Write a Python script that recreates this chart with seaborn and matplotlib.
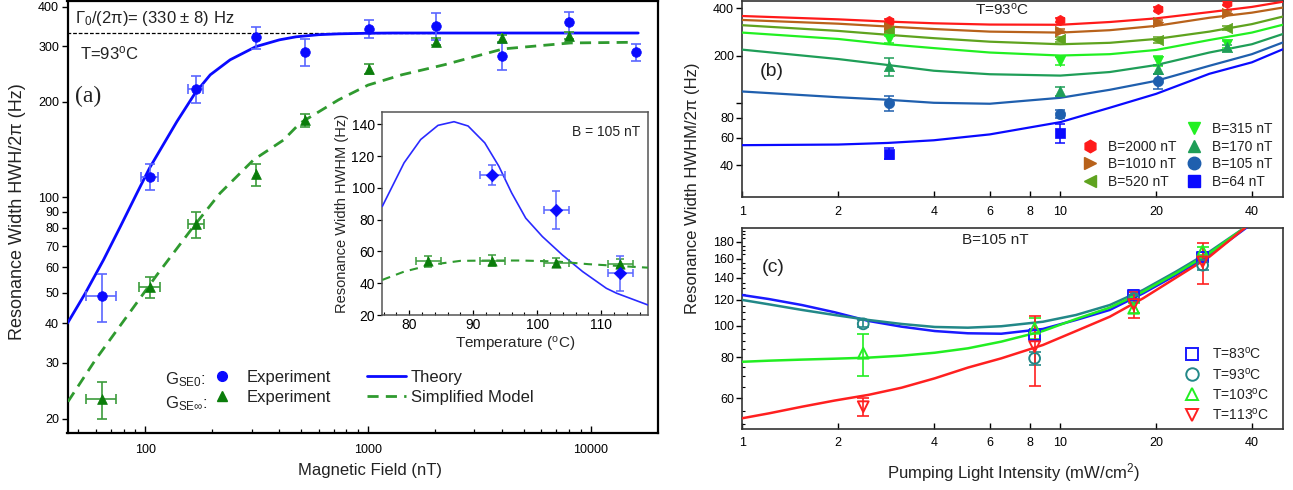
import matplotlib
matplotlib.use("Agg")
import matplotlib.pyplot as plt
from matplotlib.lines import Line2D
from matplotlib.ticker import FixedLocator, FixedFormatter, NullLocator, NullFormatter, MultipleLocator
import seaborn as sns

# ---------------- data: panel (a), width vs magnetic field at T = 93 C ----------------
field_se0 = [64, 105, 169, 314, 522, 1010, 2011, 4000, 8000, 16000]
width_se0 = [48.7, 116, 220, 320, 287, 340, 347, 280, 357, 287]
width_se0_err = [8.4, 11, 22, 25.5, 28, 22.5, 34, 27, 26.5, 17.5]
field_se0_err = [10, 9.5, 13, 0, 0, 0, 0, 0, 0, 0]

field_sem = [64, 105, 169, 314, 522, 1010, 2011, 4000, 8000]
width_sem = [23.0, 52, 82, 118, 175, 254.5, 310, 318, 324]
width_sem_err = [3.1, 4, 7.9, 9.7, 8.5, 9.5, 8, 8, 8]
field_sem_err = [10, 11, 14, 0, 0, 0, 0, 0, 0]

theory_field = [44.8, 53.8, 65, 77.3, 91.8, 104.5, 116.7, 138.7, 167.5, 195.8, 240.5,
                314, 400, 475, 600, 737, 1000, 1300, 2000, 5000, 10000, 16300]
theory_width = [40.0, 49.7, 63.4, 80.7, 103, 123.5, 141, 173.3, 213.2, 243.5, 271.6,
                299, 314, 321, 326, 328, 329.5, 330, 330, 330, 330, 330]

model_field = [45, 59.7, 94.9, 112.8, 164.5, 216.8, 306.3, 417, 495, 737, 1000, 1419,
               2200, 4040, 8100, 15600]
model_width = [22.6, 30.6, 48.0, 56.8, 80.7, 103, 131.2, 151.5, 171.3, 203, 226, 243.6,
               262, 294, 307, 308.5]

gamma0 = 330
gamma0_field = [44.8, 2000]

# inset: width vs temperature at B = 105 nT
temp_se0 = [93, 103, 113]
twidth_se0 = [108.4, 86.3, 46.3]
twidth_se0_err = [6.3, 12, 11]
temp_sem = [83, 93, 103, 113]
twidth_sem = [53.7, 54.2, 53.0, 52.3]
twidth_sem_err = [3.3, 3.5, 3.0, 3.0]
temp_err = 2.0

theory_temp = [75.8, 79.2, 81.8, 84.5, 87.0, 89.2, 91.8, 94.0, 96.0, 98.2, 100.8, 103.9,
               107.1, 110.8, 112.4, 117.3]
theory_twidth = [88.4, 115.8, 130.5, 139.4, 141.7, 139, 128.4, 113.7, 96.9, 81, 69.4, 57.9,
                 47.3, 36.8, 33.7, 26.3]
model_temp = [75.8, 79.2, 83.4, 88.0, 93, 97.5, 103, 108, 117.3]
model_twidth = [42.1, 47.3, 51.6, 54.1, 54.3, 54.3, 53.7, 52, 49.8]

# ---------------- data: panel (b), width vs pump intensity, T = 93 C ----------------
pump_b = [2.9, 10, 20.3, 33.5]
b_labels = ["B=2000 nT", "B=1010 nT", "B=520 nT", "B=315 nT", "B=170 nT", "B=105 nT", "B=64 nT"]
b_width = [
    [332, 336, 394, 434],
    [305, 287, 329, 375],
    [285, 254, 251, 299],
    [254, 185, 185, 236],
    [171, 118, 163, 225],
    [100, 85.2, 137],
    [47.5, 64.2],
]
b_err = [
    [10, 9, 12, 12],
    [8, 8, 10, 10],
    [8, 10, 10, 10],
    [12, 12, 14, 12],
    [22, 8, 10, 10],
    [11, 5, 15],
    [3.7, 9],
]
fit_pump_b = [1, 2, 2.87, 4, 6, 10, 14.3, 20, 29.4, 40, 50]
b_fit = [
    [357, 340, 329, 321, 315, 314, 327, 345, 378, 408, 440],
    [337, 319, 306, 295, 284, 280, 290, 309, 348, 375, 404],
    [312, 287, 271, 258, 245, 236, 241, 255, 284, 317, 354],
    [280, 255, 236, 223, 209, 200, 204, 217, 251, 280, 314],
    [218, 190, 174, 160, 152, 149, 157, 174, 209, 236, 274],
    [118, 108.5, 104.5, 100, 98.6, 107.6, 121, 138, 172, 204, 242],
    [53.7, 54.2, 55.5, 57.7, 62.9, 75.3, 93, 114, 153, 181, 219],
]

# ---------------- data: panel (c), width vs pump intensity, B = 105 nT ----------------
c_labels = ["T=83$^{\\mathrm{o}}$C", "T=93$^{\\mathrm{o}}$C", "T=103$^{\\mathrm{o}}$C", "T=113$^{\\mathrm{o}}$C"]
c_pump = [
    [8.3, 17, 28],
    [2.4, 8.3, 17, 28],
    [2.4, 8.3, 17, 28],
    [2.4, 8.3, 17, 28],
]
c_width = [
    [93.7, 124, 162],
    [101.3, 79.5, 121, 153],
    [82.4, 98.2, 113, 169],
    [56.6, 86.3, 116, 156.5],
]
c_err = [
    [4, 3, 6],
    [2.5, 3.7, 3, 5],
    [12.1, 7, 4, 5],
    [3.5, 21, 10.7, 22.6],
]
fit_pump_c = [1, 1.21, 1.54, 1.95, 2.49, 3.17, 4.03, 5.12, 6.52, 8.81, 11.2, 14.3, 18.2, 23.1, 29.4, 38.8]
c_fit = [
    [124, 120.6, 115.6, 109.9, 103.4, 99.3, 96.3, 94.8, 94.5, 97.7, 104.1, 111.7, 125.5, 142.8, 164.3, 200.3],
    [119.8, 116.2, 111.7, 107.8, 104.1, 101.2, 99.1, 98.6, 99.6, 102.8, 107.8, 115.6, 128.5, 146.2, 168, 202],
    [77.6, 78.2, 78.8, 79.3, 79.9, 81.0, 82.7, 85.3, 89.4, 96.3, 104.8, 113.5, 126.9, 144.5, 166.2, 202],
    [52.2, 54.0, 56.6, 59.1, 61.5, 64.7, 69.1, 74.5, 79.5, 87.3, 96.3, 106.5, 121.2, 140.1, 162.2, 202],
]

# ---------------- styling ----------------
sns.set_theme(style="ticks")
plt.rcParams["font.family"] = ["Liberation Sans", "DejaVu Sans"]
plt.rcParams["mathtext.fontset"] = "custom"
plt.rcParams["mathtext.rm"] = "Liberation Sans"
plt.rcParams["mathtext.it"] = "Liberation Sans:italic"
plt.rcParams["mathtext.bf"] = "Liberation Sans:bold"
plt.rcParams["axes.edgecolor"] = "black"
plt.rcParams["xtick.color"] = "black"
plt.rcParams["ytick.color"] = "black"
plt.rcParams["text.color"] = "#222222"

BLUE = "#0a0aff"
BLUE_BAR = "#5a66ff"
GREEN = "#0b7d0b"
GREEN_LINE = "#2f9a2f"
GREEN_BAR = "#3c9c3c"
DASH = (0, (4, 2.6))

b_colors = ["#ff1a1a", "#b8621b", "#5fa31f", "#22f022", "#1f9e58", "#1f5fae", "#0a0aff"]
b_markers = ["h", ">", "<", "v", "^", "o", "s"]
c_colors = ["#1a1aff", "#228888", "#22ee22", "#ff2020"]
c_markers = ["s", "o", "^", "v"]

W, H = 1293, 490
fig = plt.figure(figsize=(W / 100, H / 100), dpi=100)


def box(l, t, r, b):
    return [l / W, 1 - b / H, (r - l) / W, (b - t) / H]


def fx(px):
    return px / W


def fy(py):
    return 1 - py / H


ax_a = fig.add_axes(box(67.5, 1.5, 658, 433))
ax_in = fig.add_axes(box(382.3, 111.7, 648, 315))
ax_b = fig.add_axes(box(742.3, 1, 1282.7, 197.3))
ax_c = fig.add_axes(box(742.3, 227.7, 1282.7, 429))

# ---------------- panel (a) ----------------
ax = ax_a
ax.set_xscale("log")
ax.set_yscale("log")
sns.lineplot(x=gamma0_field, y=[gamma0, gamma0], ax=ax, color="black", linewidth=0.9,
             linestyle=(0, (3, 1.5)), zorder=2)
sns.lineplot(x=theory_field, y=theory_width, ax=ax, color=BLUE, linewidth=2.0, zorder=3)
sns.lineplot(x=model_field, y=model_width, ax=ax, color=GREEN_LINE, linewidth=2.0,
             linestyle=DASH, zorder=3)
ax.errorbar(field_se0, width_se0, yerr=width_se0_err, xerr=field_se0_err, fmt="none",
            ecolor=BLUE_BAR, elinewidth=1.2, capsize=3.5, capthick=1.2, zorder=4)
ax.errorbar(field_sem, width_sem, yerr=width_sem_err, xerr=field_sem_err, fmt="none",
            ecolor=GREEN_BAR, elinewidth=1.2, capsize=3.5, capthick=1.2, zorder=4)
sns.scatterplot(x=field_se0, y=width_se0, ax=ax, marker="o", s=48, color=BLUE,
                edgecolor=BLUE, linewidth=0.5, zorder=5)
sns.scatterplot(x=field_sem, y=width_sem, ax=ax, marker="^", s=50, color=GREEN,
                edgecolor=GREEN, linewidth=0.5, zorder=5)
ax.set_xlim(44.8, 20000)
ax.set_ylim(18, 415)
a_yticks = [20, 30, 40, 50, 60, 70, 80, 90, 100, 200, 300, 400]
ax.yaxis.set_major_locator(FixedLocator(a_yticks))
ax.yaxis.set_major_formatter(FixedFormatter([str(v) for v in a_yticks]))
ax.yaxis.set_minor_locator(NullLocator())
ax.xaxis.set_major_locator(FixedLocator([100, 1000, 10000]))
ax.xaxis.set_major_formatter(FixedFormatter(["100", "1000", "10000"]))
a_xminor = [m * d for d in (10, 100, 1000, 10000) for m in range(2, 10) if 44 < m * d < 20000]
ax.xaxis.set_minor_locator(FixedLocator(a_xminor))
ax.xaxis.set_minor_formatter(NullFormatter())
ax.tick_params(axis="y", which="major", direction="out", length=4, width=1, labelsize=9, pad=2)
ax.tick_params(axis="x", which="major", direction="in", length=5, width=1, labelsize=9, pad=8)
ax.tick_params(axis="x", which="minor", direction="in", length=3, width=0.9)
for sp in ax.spines.values():
    sp.set_linewidth(1.6)
    sp.set_visible(True)
ax.set_xlabel("")
ax.set_ylabel("")

fig.text(fx(75), fy(18), "\u0393$_{0}$/(2\u03c0)= (330 \u00b1 8) Hz", fontsize=12, va="center", ha="left")
fig.text(fx(80), fy(53), "T=93$^{\\mathrm{o}}$C", fontsize=12, va="center", ha="left")
fig.text(fx(75), fy(96), "(a)", fontsize=17, va="center", ha="left", family="Liberation Serif")
fig.text(fx(18), fy(212), "Resonance Width HWH/2\u03c0 (Hz)", fontsize=13, rotation=90,
         va="center", ha="center")
fig.text(fx(370), fy(470), "Magnetic Field (nT)", fontsize=12, va="center", ha="center")

a_handles = [
    Line2D([], [], ls="none", marker="o", color=BLUE, markersize=7),
    Line2D([], [], ls="none", marker="^", color=GREEN, markersize=7),
    Line2D([], [], color=BLUE, lw=2),
    Line2D([], [], color=GREEN_LINE, lw=2, ls=DASH),
]
ax.legend(a_handles, ["Experiment", "Experiment", "Theory", "Simplified Model"], ncol=2,
          loc="upper left", bbox_to_anchor=(fx(203), fy(370)), bbox_transform=fig.transFigure,
          frameon=False, fontsize=12, handlelength=2.3, handletextpad=0.3, columnspacing=2.2,
          labelspacing=0.3, borderpad=0, borderaxespad=0)
fig.text(fx(165), fy(380), "G$_{\\mathrm{SE0}}$:", fontsize=12, va="center", ha="left")
fig.text(fx(165), fy(404), "G$_{\\mathrm{SE\\infty}}$:", fontsize=12, va="center", ha="left")

# ---------------- inset ----------------
ax = ax_in
ax.set_facecolor("white")
sns.lineplot(x=theory_temp, y=theory_twidth, ax=ax, color="#2a2aff", linewidth=1.2, zorder=3)
sns.lineplot(x=model_temp, y=model_twidth, ax=ax, color=GREEN_LINE, linewidth=1.5,
             linestyle=(0, (4, 3)), zorder=3)
ax.errorbar(temp_sem, twidth_sem, yerr=twidth_sem_err, xerr=temp_err, fmt="none",
            ecolor=GREEN_BAR, elinewidth=1.1, capsize=3, capthick=1.1, zorder=4)
ax.errorbar(temp_se0, twidth_se0, yerr=twidth_se0_err, xerr=temp_err, fmt="none",
            ecolor=BLUE_BAR, elinewidth=1.1, capsize=3, capthick=1.1, zorder=4)
sns.scatterplot(x=temp_sem, y=twidth_sem, ax=ax, marker="^", s=45, color=GREEN,
                edgecolor=GREEN, linewidth=0.5, zorder=5)
sns.scatterplot(x=temp_se0, y=twidth_se0, ax=ax, marker="D", s=40, color=BLUE,
                edgecolor=BLUE, linewidth=0.5, zorder=5)
ax.set_xlim(75.8, 117.3)
ax.set_ylim(20, 148)
ax.xaxis.set_major_locator(FixedLocator([80, 90, 100, 110]))
ax.xaxis.set_minor_locator(MultipleLocator(2))
ax.yaxis.set_major_locator(FixedLocator([20, 40, 60, 80, 100, 120, 140]))
ax.tick_params(axis="both", which="major", labelsize=10, length=3.5, width=0.9, pad=2)
ax.tick_params(axis="x", which="both", direction="in")
ax.tick_params(axis="x", which="minor", length=2, width=0.8)
ax.tick_params(axis="y", which="major", direction="out")
for sp in ax.spines.values():
    sp.set_linewidth(1.1)
    sp.set_color("#555555")
    sp.set_visible(True)
ax.set_xlabel("Temperature ($^{\\mathrm{o}}$C)", fontsize=11, labelpad=2)
ax.set_ylabel("Resonance Width HWHM (Hz)", fontsize=10.5, labelpad=2)
ax.text(0.97, 0.9, "B = 105 nT", transform=ax.transAxes, fontsize=10, ha="right", va="center")

# ---------------- panel (b) ----------------
ax = ax_b
ax.set_xscale("log")
ax.set_yscale("log")
for i in range(len(b_labels)):
    sns.lineplot(x=fit_pump_b, y=b_fit[i], ax=ax, color=b_colors[i], linewidth=1.6, zorder=3)
for i in range(len(b_labels)):
    xs = pump_b[:len(b_width[i])]
    ax.errorbar(xs, b_width[i], yerr=b_err[i], fmt="none", ecolor=b_colors[i],
                elinewidth=1.1, capsize=3.5, capthick=1.1, zorder=4)
    sns.scatterplot(x=xs, y=b_width[i], ax=ax, marker=b_markers[i], s=55,
                    color=b_colors[i], edgecolor=b_colors[i], linewidth=0.5, zorder=5)
ax.set_xlim(1, 50)
ax.set_ylim(25, 445)
pump_ticks = [1, 2, 4, 6, 8, 10, 20, 40]
b_yticks = [40, 60, 80, 100, 200, 400]
ax.yaxis.set_major_locator(FixedLocator(b_yticks))
ax.yaxis.set_major_formatter(FixedFormatter(["40", "60", "80", "", "200", "400"]))
ax.yaxis.set_minor_locator(NullLocator())
ax.xaxis.set_major_locator(FixedLocator(pump_ticks))
ax.xaxis.set_major_formatter(FixedFormatter([str(v) for v in pump_ticks]))
ax.xaxis.set_minor_locator(NullLocator())
ax.tick_params(axis="y", which="major", direction="out", length=4, width=1, labelsize=9, pad=2)
ax.tick_params(axis="x", which="major", direction="in", length=4, width=1, labelsize=9, pad=6)
for sp in ax.spines.values():
    sp.set_linewidth(1.2)
    sp.set_color("#333333")
    sp.set_visible(True)
ax.set_xlabel("")
ax.set_ylabel("")
fig.text(fx(1002), fy(10), "T=93$^{\\mathrm{o}}$C", fontsize=11, ha="center", va="center")
fig.text(fx(760), fy(72), "(b)", fontsize=14, ha="left", va="center")

blank = Line2D([], [], ls="none")
b_handles = [Line2D([], [], ls="none", marker=b_markers[i], color=b_colors[i], markersize=9)
             for i in range(len(b_labels))]
ax.legend([blank] + b_handles, [""] + b_labels, ncol=2, loc="upper left",
          bbox_to_anchor=(fx(1080), fy(122)), bbox_transform=fig.transFigure,
          frameon=False, fontsize=10, handlelength=1.4, handletextpad=0.6,
          columnspacing=0.6, labelspacing=0.26, borderpad=0, borderaxespad=0)

fig.text(fx(693), fy(188), "Resonance Width HWHM/2\u03c0 (Hz)", fontsize=12, rotation=90,
         va="center", ha="center")

# ---------------- panel (c) ----------------
ax = ax_c
ax.set_xscale("log")
ax.set_yscale("log")
for i in range(len(c_labels)):
    sns.lineplot(x=fit_pump_c, y=c_fit[i], ax=ax, color=c_colors[i], linewidth=1.8, zorder=3)
for i in range(len(c_labels)):
    ax.errorbar(c_pump[i], c_width[i], yerr=c_err[i], fmt="none", ecolor=c_colors[i],
                elinewidth=1.2, capsize=4, capthick=1.2, zorder=4)
    sns.scatterplot(x=c_pump[i], y=c_width[i], ax=ax, marker=c_markers[i], s=60,
                    facecolor="none", edgecolor=c_colors[i], linewidth=1.4, zorder=5)
ax.set_xlim(1, 50)
ax.set_ylim(48.4, 199)
c_yticks = [60, 80, 100, 120, 140, 160, 180]
ax.yaxis.set_major_locator(FixedLocator(c_yticks))
ax.yaxis.set_major_formatter(FixedFormatter([str(v) for v in c_yticks]))
ax.yaxis.set_minor_locator(FixedLocator([v for v in range(50, 200, 5) if v not in c_yticks]))
ax.yaxis.set_minor_formatter(NullFormatter())
ax.xaxis.set_major_locator(FixedLocator(pump_ticks))
ax.xaxis.set_major_formatter(FixedFormatter([str(v) for v in pump_ticks]))
ax.xaxis.set_minor_locator(NullLocator())
ax.tick_params(axis="y", which="major", direction="out", length=4, width=1, labelsize=9, pad=2)
ax.tick_params(axis="y", which="minor", direction="in", length=2.5, width=0.8)
ax.tick_params(axis="x", which="major", direction="in", length=4, width=1, labelsize=9, pad=6)
for sp in ax.spines.values():
    sp.set_linewidth(1.2)
    sp.set_color("#333333")
    sp.set_visible(True)
ax.set_xlabel("")
ax.set_ylabel("")
fig.text(fx(995), fy(240), "B=105 nT", fontsize=11, ha="center", va="center")
fig.text(fx(762), fy(267), "(c)", fontsize=14, ha="left", va="center")
fig.text(fx(1013), fy(473), "Pumping Light Intensity (mW/cm$^{2}$)", fontsize=12,
         ha="center", va="center")

c_handles = [Line2D([], [], ls="none", marker=c_markers[i], markerfacecolor="none",
                    markeredgecolor=c_colors[i], markeredgewidth=1.4, markersize=9)
             for i in range(len(c_labels))]
ax.legend(c_handles, c_labels, loc="upper left", bbox_to_anchor=(fx(1182), fy(346)),
          bbox_transform=fig.transFigure, frameon=False, fontsize=10, handlelength=1.4,
          handletextpad=0.75, labelspacing=0.3, borderpad=0, borderaxespad=0)

fig.savefig("out.png", dpi=100, facecolor="white")
